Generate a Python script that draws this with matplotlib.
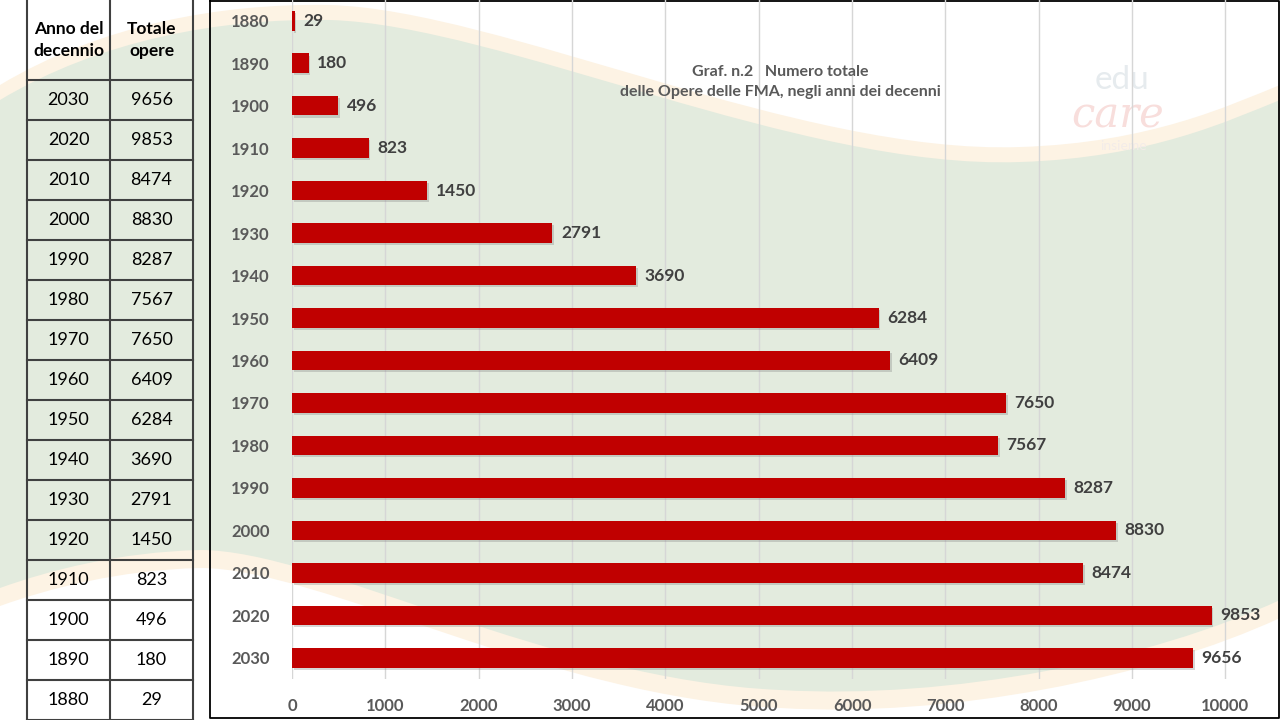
import matplotlib
matplotlib.use("Agg")
import matplotlib.pyplot as plt
import matplotlib.patheffects as pe
from matplotlib.path import Path
from matplotlib.patches import PathPatch

plt.rcParams['font.family'] = ['Lato', 'DejaVu Sans']

##### Data #####
decades = [1880, 1890, 1900, 1910, 1920, 1930, 1940, 1950,
           1960, 1970, 1980, 1990, 2000, 2010, 2020, 2030]
totals = [29, 180, 496, 823, 1450, 2791, 3690, 6284,
          6409, 7650, 7567, 8287, 8830, 8474, 9853, 9656]
x_ticks = [0, 1000, 2000, 3000, 4000, 5000, 6000, 7000, 8000, 9000, 10000]

title = "Graf. n.2   Numero totale\ndelle Opere delle FMA, negli anni dei decenni"
header = ["Anno del\ndecennio", "Totale\nopere"]

W, H = 1280, 720
fig = plt.figure(figsize=(12.8, 7.2), dpi=100)
fig.patch.set_facecolor("white")

# background layer in pixel coordinates (y down)
bg = fig.add_axes([0, 0, 1, 1], zorder=-5)
bg.set_xlim(0, W)
bg.set_ylim(H, 0)
bg.axis("off")


def swoosh(dy_top, dy_bot):
    verts = [(0, 100 + dy_top),
             (100, 40 + dy_top), (220, 18 + dy_top), (330, 20 + dy_top),
             (500, 25 + dy_top), (800, 170 + dy_top), (1020, 162 + dy_top),
             (1150, 158 + dy_top), (1230, 120 + dy_top), (1280, 100 + dy_top),
             (1280, 600 + dy_bot),
             (1150, 660 + dy_bot), (950, 700 + dy_bot), (780, 690 + dy_bot),
             (550, 680 + dy_bot), (320, 550 + dy_bot), (200, 550 + dy_bot),
             (120, 552 + dy_bot), (50, 570 + dy_bot), (0, 588 + dy_bot),
             (0, 100 + dy_top)]
    codes = [Path.MOVETO] + [Path.CURVE4] * 9 + [Path.LINETO] + [Path.CURVE4] * 9 + [Path.CLOSEPOLY]
    return Path(verts, codes)


bg.add_patch(PathPatch(swoosh(-15, 18), facecolor="#fdf3e4", edgecolor="none"))
bg.add_patch(PathPatch(swoosh(0, 0), facecolor="#e3ebde", edgecolor="none"))

# faint logo
bg.text(1122, 80, "edu", fontsize=24, color="#e6ebee", ha="center", va="center")
bg.text(1118, 116, "care", fontsize=30, color="#f8dedc", style="italic",
        ha="center", va="center", family="DejaVu Serif")
bg.text(1124, 146, "insieme", fontsize=10, color="#f3ece9", ha="center", va="center")

# chart frame
bg.plot([210, 1279, 1279, 210, 210], [1, 1, 718, 718, 1], color="black", lw=1.3)

# table on the left
col_x = [27, 110, 193]
for x in col_x:
    bg.plot([x, x], [0, H], color="#404040", lw=1.5)
for i in range(17):
    y = 80 + 40 * i
    bg.plot([27, 193], [y, y], color="#404040", lw=1.5)
bg.text(68.5, 40, header[0], ha="center", va="center", fontsize=12.5,
        fontweight="bold", color="black", linespacing=1.5)
bg.text(151.5, 40, header[1], ha="center", va="center", fontsize=12.5,
        fontweight="bold", color="black", linespacing=1.5)
for i, (d, t) in enumerate(zip(decades[::-1], totals[::-1])):
    yc = 100 + 40 * i
    bg.text(68.5, yc, str(d), ha="center", va="center", fontsize=13, color="black")
    bg.text(151.5, yc, str(t), ha="center", va="center", fontsize=13, color="black")

##### Bar chart #####
ax = fig.add_axes([292 / W, 41 / H, 980 / W, 679.5 / H])
ax.patch.set_alpha(0)
pos = list(range(len(decades)))
bars = ax.barh(pos, totals, height=0.46, color="#c00000", zorder=3)
for b in bars:
    b.set_path_effects([pe.SimplePatchShadow(offset=(1.2, -1.5), shadow_rgbFace="#8a8a8a", alpha=0.35),
                        pe.Normal()])
for p, v in zip(pos, totals):
    ax.text(v + 90, p, str(v), va="center", ha="left", fontsize=12.5,
            fontweight="bold", color="#404040", zorder=4)

ax.set_xlim(0, 10500)
ax.set_ylim(15.5, -0.5)
ax.set_yticks(pos)
ax.set_yticklabels([str(d) for d in decades])
ax.set_xticks(x_ticks)
ax.tick_params(axis="both", length=0, labelsize=12, labelcolor="#595959")
ax.tick_params(axis="y", pad=16)
ax.tick_params(axis="x", pad=14)
for lab in ax.get_xticklabels() + ax.get_yticklabels():
    lab.set_fontweight("bold")
ax.grid(axis="x", color="#d6d6d6", lw=1, zorder=0)
for s in ax.spines.values():
    s.set_visible(False)

fig.text(780 / W, 1 - 82 / H, title, ha="center", va="center", fontsize=11.5,
         fontweight="bold", color="#595959", linespacing=1.5)

fig.savefig("out.png", dpi=100)
